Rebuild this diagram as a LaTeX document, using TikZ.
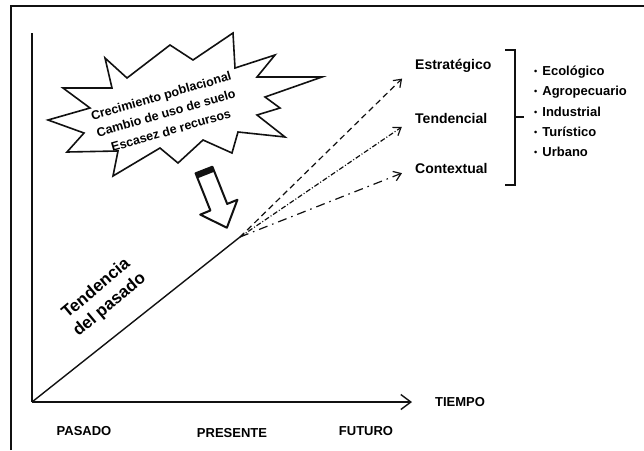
\documentclass[tikz,border=0pt]{standalone}
\usepackage{fontspec}
\setmainfont{Liberation Sans}
\usepackage{xcolor}
\definecolor{ink}{HTML}{111111}
\usetikzlibrary{arrows.meta,positioning}

\begin{document}
\begin{tikzpicture}[
  x=1pt, y=-1pt, font=\bfseries\fontsize{13}{15}\selectfont,
  axis/.style={-{Straight Barb[length=10pt,width=15pt]}, line width=1.4pt, color=ink},
  scen/.style={-{Straight Barb[length=7pt,width=10pt]}, line width=1.2pt, color=ink},
  lbl/.style={anchor=west, inner sep=0pt, font=\bfseries\fontsize{14}{16}\selectfont},
  item/.style={anchor=west, inner sep=0pt},
  era/.style={inner sep=0pt}
]
\useasboundingbox (0,0) rectangle (644,450);
\fill[white] (0,0) rectangle (644,450);

% Frame
\draw[line width=1.5pt, color=ink] (11,450) -- (11,6) -- (644,6);

% Axes
\coordinate (origen) at (32,402);
\coordinate (fin) at (412,402);
\coordinate (hoy) at (240,237);
\draw[line width=1.4pt, color=ink] (32,33) -- (origen);
\draw[axis] (origen) -- (fin);
\node[era] (tiempo) at (460,402) {TIEMPO};
\node[era] (pasado) at (84,431) {PASADO};
\node[era] (presente) at (232,433) {PRESENTE};
\node[era] (futuro) at (366,431) {FUTURO};

% Past trend
\draw[line width=1.4pt, color=ink] (origen) -- (hoy);
\node[rotate=40, align=center, font=\bfseries\fontsize{17}{21}\selectfont] (tend) at (103,297) {Tendencia\\del pasado};

% Scenarios
\node[lbl] (est) at (415,66) {Estratégico};
\node[lbl] (ten) at (415,118) {Tendencial};
\node[lbl] (con) at (415,168) {Contextual};
\draw[scen, dash pattern=on 6pt off 4pt, shorten >=18pt] (hoy) -- (est.west);
\draw[scen, dash pattern=on 5pt off 2pt on 1pt off 2pt, shorten >=16pt] (hoy) -- (ten.west);
\draw[scen, dash pattern=on 9pt off 5pt on 1.5pt off 5pt, shorten >=14pt] (hoy) -- (con.west);

% Bracket and types
\draw[line width=1.2pt, color=ink] (505,50) -- (515,50) -- (515,185) -- (505,185);
\draw[line width=1.2pt, color=ink] (515,117) -- (524,117);
\foreach \t [count=\i] in {Ecológico,Agropecuario,Industrial,Turístico,Urbano} {
  \node[item] (tipo\i) at (534,52+20*\i) {\raisebox{1pt}{\scalebox{0.7}{\textbullet}}\hspace{5pt}\t};
}

% Explosion with drivers
\draw[line width=1.6pt, color=ink, fill=white] (48,120) -- (90,108) -- (63,88) -- (112,88)
  -- (105,58) -- (127,78) -- (170,45) -- (193,60) -- (233,33) -- (235,68)
  -- (275,55) -- (257,77) -- (322,77) -- (265,97) -- (280,108) -- (257,115)
  -- (285,137) -- (238,132) -- (232,153) -- (203,140) -- (178,163) -- (160,148)
  -- (113,176) -- (118,151) -- (67,152) -- (84,133) -- cycle;
\node[rotate=16, align=center, font=\bfseries\fontsize{12.5}{18}\selectfont] (causas) at (166,113) {Crecimiento poblacional\\Cambio de uso de suelo\\Escasez de recursos};

% Block arrow
\draw[line width=2pt, color=ink, fill=white, line join=round] (212.4,166.7) -- (227.2,203.9) -- (237.4,199.8)
  -- (226.9,227.7) -- (200.2,214.6) -- (210.4,210.5) -- (195.6,173.3) -- cycle;
\fill[ink] (195.6,173.3) -- (212.4,166.7) -- (214.4,171.7) -- (197.6,178.3) -- cycle;

\end{tikzpicture}
\end{document}
